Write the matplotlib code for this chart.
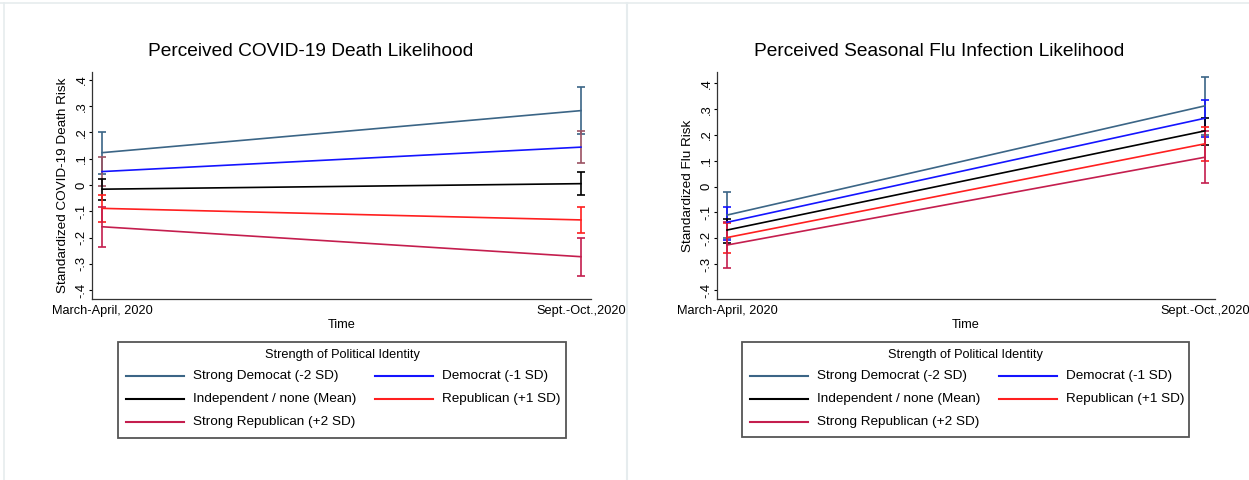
import matplotlib
matplotlib.use("Agg")
import matplotlib.pyplot as plt
from matplotlib.lines import Line2D
from matplotlib.patches import Rectangle

plt.rcParams['font.family'] = ['Liberation Sans', 'DejaVu Sans']

# ---- data ----
time_labels = ["March-April, 2020", "Sept.-Oct.,2020"]
groups_left = ["Strong Democat (-2 SD)", "Democrat (-1 SD)", "Independent / none (Mean)",
               "Republican (+1 SD)", "Strong Republican (+2 SD)"]
groups_right = ["Strong Democrat (-2 SD)", "Democrat (-1 SD)", "Independent / none (Mean)",
                "Republican (+1 SD)", "Strong Republican (+2 SD)"]

covid_mean = [[0.123, 0.283], [0.051, 0.144], [-0.016, 0.005], [-0.089, -0.133], [-0.159, -0.273]]
covid_lo = [[0.043, 0.194], [-0.003, 0.083], [-0.056, -0.038], [-0.140, -0.182], [-0.235, -0.345]]
covid_hi = [[0.200, 0.374], [0.105, 0.207], [0.024, 0.051], [-0.038, -0.083], [-0.083, -0.200]]

flu_mean = [[-0.110, 0.313], [-0.138, 0.265], [-0.168, 0.216], [-0.197, 0.166], [-0.226, 0.114]]
flu_lo = [[-0.200, 0.200], [-0.206, 0.194], [-0.217, 0.162], [-0.256, 0.100], [-0.316, 0.016]]
flu_hi = [[-0.019, 0.424], [-0.077, 0.336], [-0.126, 0.265], [-0.142, 0.230], [-0.136, 0.217]]

yticks = [-0.4, -0.3, -0.2, -0.1, 0, 0.1, 0.2, 0.3, 0.4]
ytick_labels = ["-.4", "-.3", "-.2", "-.1", "0", ".1", ".2", ".3", ".4"]

colors = ["#3b6586", "#1414ff", "#000000", "#ff1f1f", "#c41e4e"]
ci_colors_left = ["#3b6586", "#9b5262", "#000000", "#ff1f1f", "#c41e4e"]
ci_colors_right = colors

W, H = 1249, 480
fig = plt.figure(figsize=(W / 100, H / 100), dpi=100)


def px_rect(x0, y0, x1, y1):
    return [x0 / W, 1 - y1 / H, (x1 - x0) / W, (y1 - y0) / H]


def draw_panel(ax, means, los, his, ci_cols, ylabel, ylim):
    xs = [0, 1]
    for i in range(len(means)):
        ax.plot(xs, means[i], color=colors[i], lw=1.2, zorder=3)
    for i in range(len(means)):
        m = means[i]
        err_lo = [m[k] - los[i][k] for k in range(2)]
        err_hi = [his[i][k] - m[k] for k in range(2)]
        ax.errorbar(xs, m, yerr=[err_lo, err_hi], fmt='none', ecolor=ci_cols[i],
                    elinewidth=1.2, capsize=2.8, capthick=1.2, zorder=2)
    ax.set_xlim(-0.021, 1.021)
    ax.set_ylim(*ylim)
    ax.set_yticks(yticks)
    ax.set_yticklabels(ytick_labels, rotation=90, va='center', fontsize=9.4)
    ax.set_xticks([0, 1])
    ax.set_xticklabels(time_labels, fontsize=9.2)
    ax.tick_params(axis='x', length=0, pad=4)
    ax.tick_params(axis='y', length=2, pad=1, width=0.8)
    for s in ['top', 'right']:
        ax.spines[s].set_visible(False)
    for s in ['left', 'bottom']:
        ax.spines[s].set_linewidth(0.9)
        ax.spines[s].set_color('#333333')
    ax.set_ylabel(ylabel, fontsize=9.7, labelpad=5)
    ax.set_xlabel("Time", fontsize=9.2, labelpad=2)


def draw_legend(rect, labels):
    lax = fig.add_axes(px_rect(*rect))
    lax.set_xlim(0, rect[2] - rect[0])
    lax.set_ylim(rect[3] - rect[1], 0)
    lax.axis('off')
    w = rect[2] - rect[0]
    h = rect[3] - rect[1]
    lax.add_patch(Rectangle((0, 0), w, h, fill=False, edgecolor='#555555', lw=1.3, clip_on=False))
    lax.text(w / 2, 13, "Strength of Political Identity", ha='center', va='center', fontsize=9.2)
    pos = [(0, 34), (1, 34), (0, 57), (1, 57), (0, 80)]
    for i, lab in enumerate(labels):
        col, yy = pos[i]
        x0 = 8 if col == 0 else 257
        lax.plot([x0, x0 + 58], [yy, yy], color=colors[i], lw=1.5)
        lax.text(x0 + 67, yy, lab, ha='left', va='center', fontsize=9.7)


# left panel
ax1 = fig.add_axes(px_rect(92, 72, 591, 299))
draw_panel(ax1, covid_mean, covid_lo, covid_hi, ci_colors_left,
           "Standardized COVID-19 Death Risk", (-0.434, 0.43))
fig.text(311 / W, 1 - 52 / H, "Perceived COVID-19 Death Likelihood", ha='center', va='center', fontsize=13.8)
draw_legend((118, 342, 566, 438), groups_left)

# right panel
ax2 = fig.add_axes(px_rect(717, 72, 1215, 299))
draw_panel(ax2, flu_mean, flu_lo, flu_hi, ci_colors_right,
           "Standardized Flu Risk", (-0.435, 0.444))
fig.text(939 / W, 1 - 52 / H, "Perceived Seasonal Flu Infection Likelihood", ha='center', va='center', fontsize=13.8)
draw_legend((742, 342, 1189, 437), groups_right)

# faint frame lines
fc = '#e6ecee'
fig.add_artist(Line2D([0, 1], [1 - 2.5 / H, 1 - 2.5 / H], color=fc, lw=1.2))
fig.add_artist(Line2D([4 / W, 4 / W], [0, 1 - 2.5 / H], color=fc, lw=1.2))
fig.add_artist(Line2D([627.5 / W, 627.5 / W], [0, 1 - 2.5 / H], color=fc, lw=1.5))

fig.savefig("out.png", dpi=100)
